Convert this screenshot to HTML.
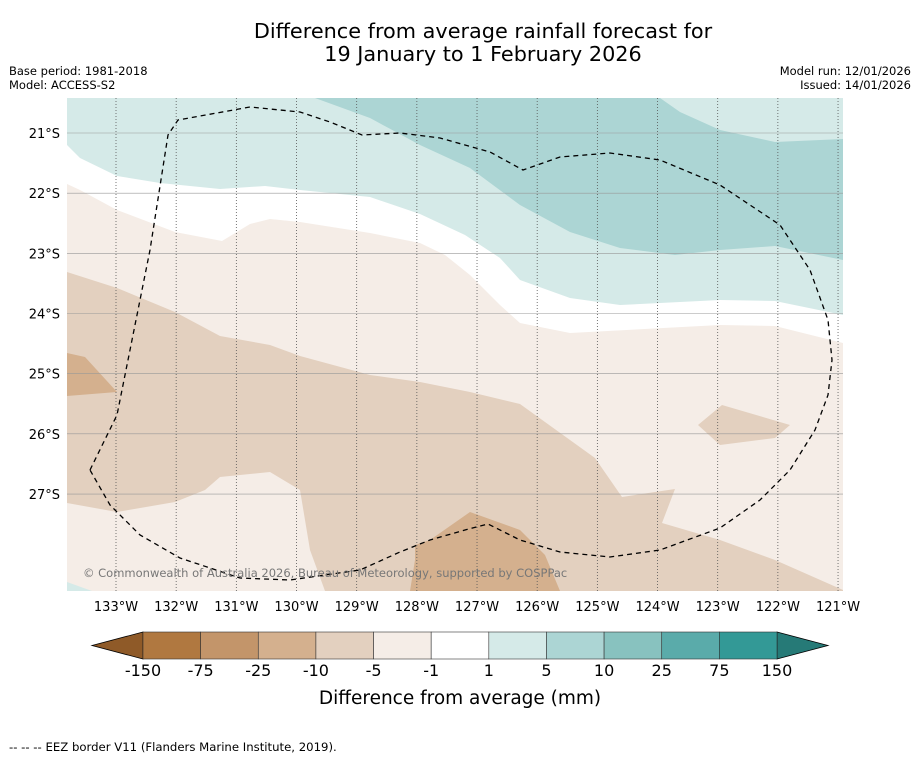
<!DOCTYPE html>
<html><head><meta charset="utf-8"><style>
body{margin:0;background:#fff;font-family:"DejaVu Sans","Liberation Sans",sans-serif;}
svg{display:block}
</style></head><body>
<svg width="919" height="758" viewBox="0 0 919 758" xmlns="http://www.w3.org/2000/svg">
<text x="483" y="38" font-size="20.8" text-anchor="middle">Difference from average rainfall forecast for</text>
<text x="483" y="61" font-size="20.8" text-anchor="middle">19 January to 1 February 2026</text>
<text x="9" y="75" font-size="11.5">Base period: 1981-2018</text>
<text x="9" y="89" font-size="11.5">Model: ACCESS-S2</text>
<text x="911" y="75" font-size="11.5" text-anchor="end">Model run: 12/01/2026</text>
<text x="911" y="89" font-size="11.5" text-anchor="end">Issued: 14/01/2026</text>
<defs><clipPath id="mc"><rect x="67" y="98" width="776" height="493"/></clipPath></defs>
<g clip-path="url(#mc)">
<rect x="67" y="98" width="776" height="493" fill="#f5ede7"/>
<path fill="#ffffff" d="M67,98 L67,184 L80,190 L117,210 L175,232 L222,241 L250,224 L270,219 L300,222 L370,233 L420,243 L445,255 L470,275 L500,305 L520,323 L570,333 L720,325 L775,326 L843,343 L843,98Z"/>
<path fill="#d5eae8" d="M67,98 L67,145 L80,158 L117,176 L160,183 L220,189 L265,186 L300,190 L370,197 L420,214 L465,235 L500,258 L520,280 L570,298 L620,305 L720,300 L775,301 L843,315 L843,98Z"/>
<path fill="#acd5d4" d="M315,98 L660,98 L680,112 L720,130 L775,142 L843,139 L843,260 L775,246 L720,250 L675,255 L620,248 L570,232 L520,205 L470,168 L420,145 L370,118Z"/>
<path fill="#e3d0bf" d="M67,272 L117,288 L175,312 L220,336 L270,345 L300,356 L370,375 L420,382 L470,392 L520,404 L545,422 L570,440 L595,458 L622,497 L675,489 L662,523 L720,540 L775,560 L843,590 L843,591 L325,591 L310,550 L305,520 L300,490 L270,472 L220,477 L205,490 L175,502 L117,512 L67,503Z"/>
<path fill="#e3d0bf" d="M698,425 L722,405 L790,425 L775,438 L720,445Z"/>
<path fill="#d4b08e" d="M67,353 L85,357 L117,392 L67,396Z"/>
<path fill="#d4b08e" d="M415,545 L430,540 L470,512 L520,530 L545,555 L560,591 L410,591 L415,560Z"/>
<path fill="#d5eae8" d="M67,582 L92,591 L67,591Z"/>
<g id="grid"></g>
<path fill="none" stroke="#000" stroke-width="1.3" stroke-dasharray="5,4" d="M90,470 L117,415 L150,250 L168,135 L178,120 L250,107 L300,112 L330,122 L362,135 L400,133 L440,138 L490,152 L523,170 L560,157 L610,153 L660,160 L720,185 L780,225 L810,270 L828,320 L832,360 L828,395 L815,430 L790,470 L760,500 L720,528 L660,550 L610,557 L560,552 L520,540 L488,524 L465,530 L430,540 L400,552 L360,570 L290,580 L240,578 L180,558 L140,535 L110,505 Z"/>
<text x="83" y="577" font-size="11.5" fill="#777">© Commonwealth of Australia 2026, Bureau of Meteorology, supported by COSPPac</text>
</g>
<g id="axes"></g>
<g id="cbar"></g>
<text x="460" y="704" font-size="18.5" text-anchor="middle">Difference from average (mm)</text>
<text x="9" y="751" font-size="11.7">--  --  -- EEZ border V11 (Flanders Marine Institute, 2019).</text>
</svg>
<script>
const lonTicks=[133,132,131,130,129,128,127,126,125,124,123,122,121];
const latTicks=[21,22,23,24,25,26,27];
const levels=[-150,-75,-25,-10,-5,-1,1,5,10,25,75,150];
const levelColors=["#b07840","#c3956a","#d4b08e","#e3d0bf","#f5ede7","#ffffff","#d5eae8","#acd5d4","#88c2bf","#5aabaa","#339996"];
const ns="http://www.w3.org/2000/svg";
const xLon=w=>116+(133-w)*60.17;
const yLat=s=>133+(s-21)*60.17;
function mk(t,a,p){const e=document.createElementNS(ns,t);for(const k in a)e.setAttribute(k,a[k]);p.appendChild(e);return e;}
const grid=document.getElementById('grid'),axes=document.getElementById('axes'),cb=document.getElementById('cbar');
lonTicks.forEach(w=>{const x=xLon(w);
 const l=mk('line',{x1:x,x2:x,y1:98,y2:591,stroke:'#555','stroke-width':0.8,'stroke-dasharray':'1,2'},grid);
 
 
 const t=mk('text',{x:x,y:611,'font-size':13,'text-anchor':'middle'},axes);t.textContent=w+'°W';
 
 
});
latTicks.forEach(s=>{const y=yLat(s);
 const l=mk('line',{x1:67,x2:843,y1:y,y2:y,stroke:'#999','stroke-width':0.6},grid);
 
 
 const t=mk('text',{x:60,y:y+5,'font-size':13,'text-anchor':'end'},axes);t.textContent=s+'°S';
 
 
});
const x0=143,x1=777,n=levelColors.length,bw=(x1-x0)/n,yt=632,yb=659;
const lt=mk('polygon',{points:`${x0},${yt} 92,${(yt+yb)/2} ${x0},${yb}`,fill:'#8f5a28',stroke:'#000','stroke-width':0.8},cb);


const rt=mk('polygon',{points:`${x1},${yt} 828,${(yt+yb)/2} ${x1},${yb}`,fill:'#267a77',stroke:'#000','stroke-width':0.8},cb);


levelColors.forEach((c,i)=>{const r=mk('rect',{x:x0+i*bw,y:yt,width:bw,height:yb-yt,fill:c,stroke:'#333','stroke-width':0.6},cb);
 
 });
levels.forEach((v,i)=>{const t=mk('text',{x:x0+i*bw,y:676,'font-size':16,'text-anchor':'middle'},cb);t.textContent=v;
 
 });
</script>
</body></html>
